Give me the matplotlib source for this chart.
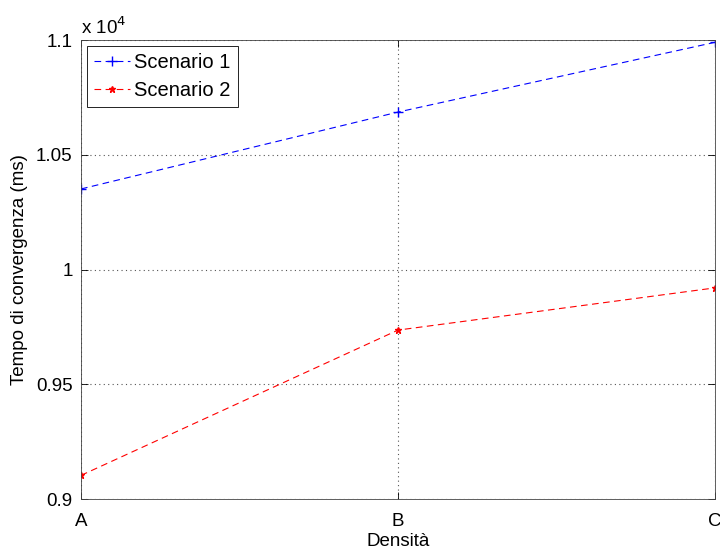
import matplotlib.pyplot as plt

plt.rcParams['font.family'] = ['Liberation Sans', 'DejaVu Sans']

categories = ["A", "B", "C"]
scenario1 = [10351, 10686, 10990]
scenario2 = [9103, 9736, 9920]
labels = ["Scenario 1", "Scenario 2"]

fig = plt.figure(figsize=(7.2, 5.58), dpi=100)
ax = fig.add_axes([0.1125, 0.1057, 0.8805, 0.8226])

x = list(range(len(categories)))
ax.plot(x, [v / 1e4 for v in scenario1], color="blue", linestyle="--", dashes=(6, 4),
        linewidth=0.8, marker="+", markersize=7, label=labels[0])
ax.plot(x, [v / 1e4 for v in scenario2], color="red", linestyle="--", dashes=(6, 4),
        linewidth=0.8, marker="*", markersize=5, label=labels[1])

ax.set_xlim(0, 2)
ax.set_ylim(0.9, 1.1)
ax.set_xticks(x)
ax.set_xticklabels(categories)
ax.set_yticks([0.9, 0.95, 1.0, 1.05, 1.1])
ax.set_yticklabels(["0.9", "0.95", "1", "1.05", "1.1"])
ax.tick_params(direction="in", top=True, right=True, labelsize=13.5, length=5, width=0.6)
ax.tick_params(axis="x", pad=10)
ax.tick_params(axis="y", pad=6)
ax.grid(True, linestyle=(0, (1, 3)), color="#555555", linewidth=0.8)
for s in ax.spines.values():
    s.set_linewidth(0.6)
    s.set_color("#444444")

ax.set_xlabel("Densità", fontsize=13.5, labelpad=2)
ax.set_ylabel("Tempo di convergenza (ms)", fontsize=13.5, labelpad=6)
ax.text(0.0, 1.005, "x 10$^{4}$", transform=ax.transAxes, fontsize=13.5,
        ha="left", va="bottom")

leg = ax.legend(loc="upper left", fontsize=14.5, fancybox=False, framealpha=1,
                edgecolor="black", borderaxespad=0.3, handlelength=1.8,
                handletextpad=0.2, borderpad=0.35, labelspacing=0.45)
leg.get_frame().set_linewidth(0.6)

fig.savefig("out.png", dpi=100)
